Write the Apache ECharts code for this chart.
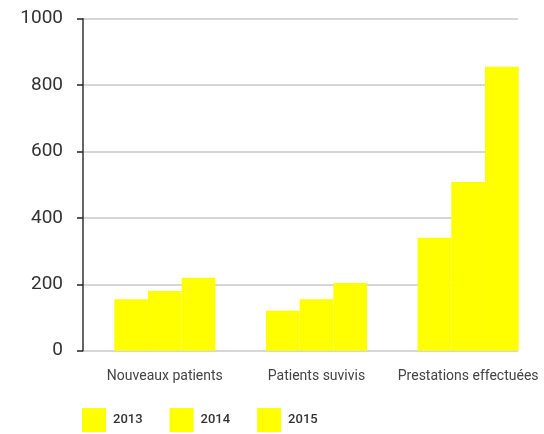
<!DOCTYPE html>
<html>
<head>
<meta charset="utf-8">
<script src="https://cdn.jsdelivr.net/npm/echarts@6/dist/echarts.min.js"></script>
<style>
  html, body { margin: 0; padding: 0; background: #fff; }
  #chart { width: 544px; height: 434px; }
</style>
</head>
<body>
<div id="chart"></div>
<script>
// Activity by year
const categories = ['Nouveaux patients', 'Patients suvivis', 'Prestations effectuées'];
const years = ['2013', '2014', '2015'];
const values2013 = [155, 120, 340];
const values2014 = [180, 155, 508];
const values2015 = [220, 204, 855];
const yTicks = { min: 0, max: 1000, interval: 200 };

const yellow = '#ffff00';
const seriesValues = [values2013, values2014, values2015];

const chart = echarts.init(document.getElementById('chart'), null, { renderer: 'canvas' });

const option = {
  animation: false,
  textStyle: { fontFamily: 'Roboto, sans-serif' },
  grid: [
    // bars
    { left: 89, top: 18.7, width: 456, height: 332 },
    // value axis with grid lines
    { left: 83, top: 18.7, width: 435, height: 332 }
  ],
  legend: {
    left: 82,
    top: 408,
    padding: 0,
    itemWidth: 24,
    itemHeight: 24,
    itemGap: 27,
    icon: 'rect',
    data: years,
    textStyle: { fontSize: 13, fontWeight: 500, color: '#333', padding: [0, 0, 0, 2] }
  },
  xAxis: [
    {
      type: 'category',
      gridIndex: 0,
      data: categories,
      axisLine: { show: false },
      axisTick: { show: false },
      axisLabel: { fontSize: 14, color: '#444', margin: 19, interval: 0, hideOverlap: false }
    },
    {
      type: 'value',
      gridIndex: 1,
      show: false
    }
  ],
  yAxis: [
    {
      type: 'value',
      gridIndex: 0,
      min: yTicks.min,
      max: yTicks.max,
      interval: yTicks.interval,
      show: false
    },
    {
      type: 'value',
      gridIndex: 1,
      min: yTicks.min,
      max: yTicks.max,
      interval: yTicks.interval,
      axisLine: { show: true, lineStyle: { color: '#333', width: 1.5 } },
      axisTick: { show: true, length: 6, lineStyle: { color: '#222', width: 1.5 } },
      axisLabel: { fontSize: 19, color: '#333', margin: 20, formatter: v => String(v) },
      splitLine: { show: true, lineStyle: { color: '#c8c8c8', width: 1.5 } }
    }
  ],
  series: years.map((y, i) => ({
    name: y,
    type: 'bar',
    xAxisIndex: 0,
    yAxisIndex: 0,
    data: seriesValues[i],
    barWidth: 33.7,
    barGap: '0%',
    itemStyle: { color: yellow }
  }))
};

chart.setOption(option);
</script>
</body>
</html>
